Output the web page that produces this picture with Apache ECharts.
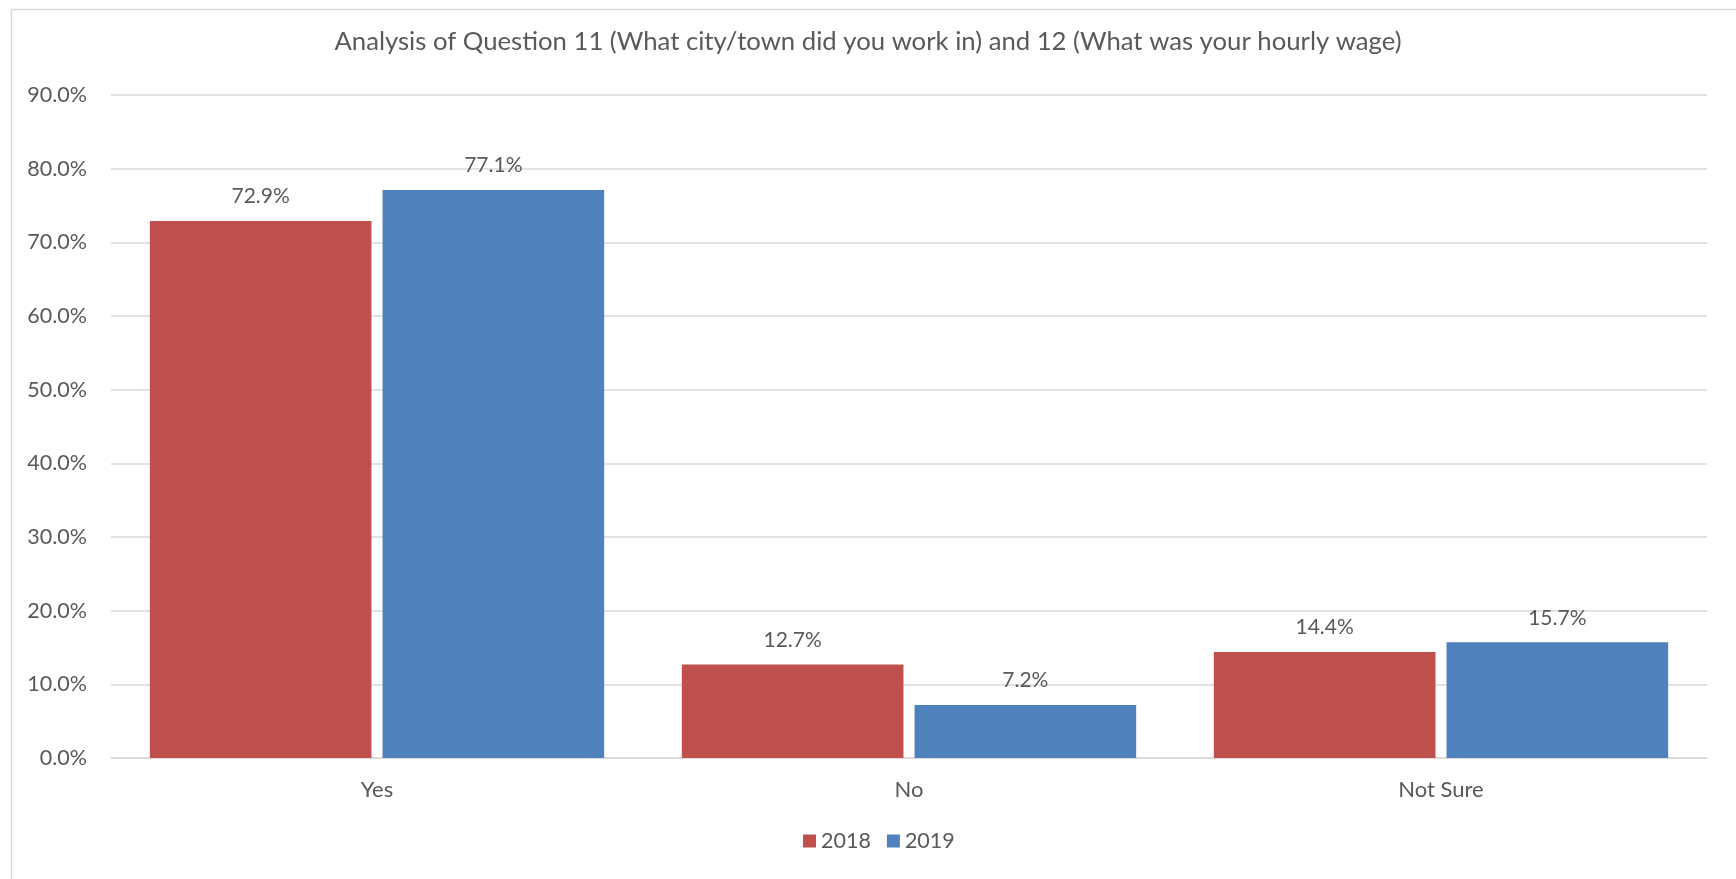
<!DOCTYPE html>
<html>
<head>
<meta charset="utf-8">
<script src="https://cdn.jsdelivr.net/npm/echarts@6/dist/echarts.min.js"></script>
<style>
html,body{margin:0;padding:0;background:#fff;}
#chart{width:1736px;height:879px;}
</style>
</head>
<body>
<div id="chart"></div>
<script>
const titleText = 'Analysis of Question 11 (What city/town did you work in) and 12 (What was your hourly wage)';
const categories = ['Yes', 'No', 'Not Sure'];
const seriesNames = ['2018', '2019'];
const values2018 = [72.9, 12.7, 14.4];
const values2019 = [77.1, 7.2, 15.7];
const yTicks = [0, 10, 20, 30, 40, 50, 60, 70, 80, 90];

const FONT = 'Lato';
const TXT = '#595959';
const chart = echarts.init(document.getElementById('chart'), null, {renderer: 'canvas'});
const labelCfg = {
  show: true, position: 'top', distance: 14,
  color: TXT, fontFamily: FONT, fontSize: 21,
  formatter: p => p.value.toFixed(1) + '%'
};
chart.setOption({
  animation: false,
  backgroundColor: '#fff',
  title: {
    text: titleText, left: 'center', top: 24, padding: [5, 5, 5, 17],
    textStyle: {color: TXT, fontFamily: FONT, fontSize: 25.7, fontWeight: 'normal'}
  },
  graphic: [{
    type: 'rect', left: 9, top: 7, shape: {width: 1800, height: 1000},
    style: {fill: 'none', stroke: '#D9D9D9', lineWidth: 1.5}, silent: true
  }],
  legend: {
    data: seriesNames, left: 803, top: 830, padding: 0,
    icon: 'rect', itemWidth: 13, itemHeight: 13, itemGap: 16,
    textStyle: {color: TXT, fontFamily: FONT, fontSize: 21.5}
  },
  grid: {left: 111, right: 29, top: 95, bottom: 121, containLabel: false},
  xAxis: {
    type: 'category', data: categories,
    axisLine: {show: true, lineStyle: {color: '#D9D9D9', width: 1.5}},
    axisTick: {show: false},
    axisLabel: {color: TXT, fontFamily: FONT, fontSize: 22, margin: 21}
  },
  yAxis: {
    type: 'value', min: yTicks[0], max: yTicks[yTicks.length - 1], interval: 10,
    axisLine: {show: false}, axisTick: {show: false},
    splitLine: {lineStyle: {color: '#D9D9D9', width: 1.5}},
    axisLabel: {color: TXT, fontFamily: FONT, fontSize: 21.5, margin: 24,
      formatter: v => v.toFixed(1) + '%'}
  },
  series: [
    {name: seriesNames[0], type: 'bar', data: values2018, itemStyle: {color: '#C0504D'},
     barGap: '5%', barCategoryGap: '14.6%', label: labelCfg},
    {name: seriesNames[1], type: 'bar', data: values2019, itemStyle: {color: '#4F81BD'},
     barGap: '5%', barCategoryGap: '14.6%', label: labelCfg}
  ]
});
</script>
</body>
</html>
